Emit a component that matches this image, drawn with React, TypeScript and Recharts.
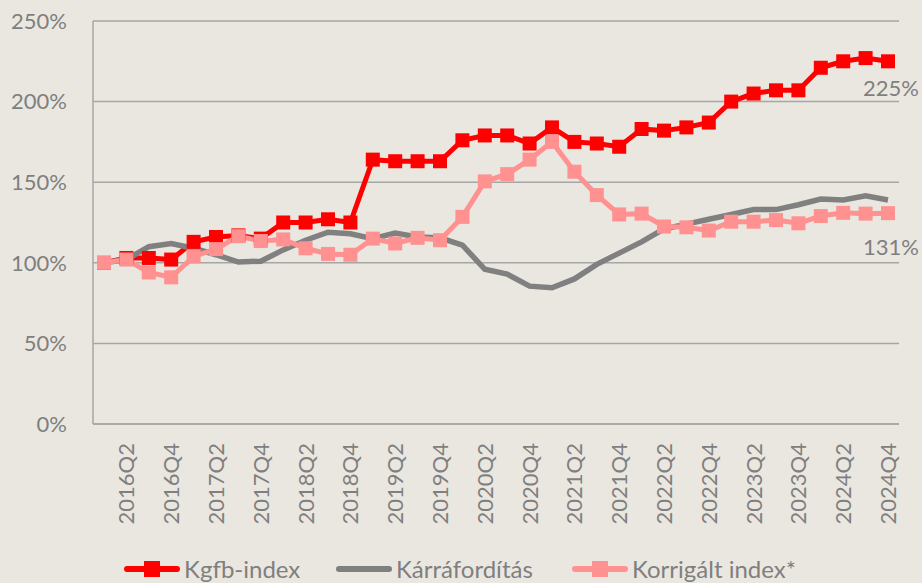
import { CartesianGrid, LabelList, Legend, Line, LineChart, XAxis, YAxis } from 'recharts'

document.body.style.margin = '0'

const quarters = [
  '2016Q1', '2016Q2', '2016Q3', '2016Q4', '2017Q1', '2017Q2', '2017Q3', '2017Q4',
  '2018Q1', '2018Q2', '2018Q3', '2018Q4', '2019Q1', '2019Q2', '2019Q3', '2019Q4',
  '2020Q1', '2020Q2', '2020Q3', '2020Q4', '2021Q1', '2021Q2', '2021Q3', '2021Q4',
  '2022Q1', '2022Q2', '2022Q3', '2022Q4', '2023Q1', '2023Q2', '2023Q3', '2023Q4',
  '2024Q1', '2024Q2', '2024Q3', '2024Q4',
]

const kgfbIndex = [
  100, 103, 103, 102, 113, 116, 117, 115, 125, 125, 127, 125,
  164, 163, 163, 163, 176, 179, 179, 174, 184, 175, 174, 172,
  183, 182, 184, 187, 200, 205, 207, 207, 221, 225, 227, 225,
]

const karraforditas = [
  100, 102, 110, 112, 109, 105, 100.5, 101, 108, 114, 119, 118,
  115, 118.5, 116, 115.5, 111, 96, 93, 85.5, 84.5, 90, 99, 106,
  113, 121, 124, 127, 130, 133, 133, 136, 139.5, 139, 141.5, 139,
]

const korrigaltIndex = [
  100, 102, 94, 91, 104, 108.5, 116.5, 113.5, 114.5, 109, 105.5, 105,
  115, 112, 115.5, 114, 128.5, 150.5, 155, 164, 175, 156.5, 142, 130,
  130.5, 122.5, 122, 120, 125.5, 125.5, 126.5, 124.5, 129, 131, 130.5, 130.8,
]

const yTicks = [0, 50, 100, 150, 200, 250]

const chartData = quarters.map((q, i) => ({
  quarter: q,
  kgfb: kgfbIndex[i],
  karr: karraforditas[i],
  korr: korrigaltIndex[i],
}))

const FONT = 'Lato, Carlito, Calibri, sans-serif'
const TEXT = '#7f7f7f'
const GRID = '#a6a6a6'
const RED = '#ff0000'
const GRAY = '#808080'
const PINK = '#ff9191'

const squareDot = (color: string) => (p: any) => (
  <rect key={`dot-${p.index}`} x={p.cx - 7} y={p.cy - 7} width={14} height={14} fill={color} />
)

const QuarterTick = (props: any) => {
  const { x, y, payload } = props
  if (payload.index % 2 === 0) return <g />
  return (
    <text
      x={x}
      y={y}
      dy="0.36em"
      transform={`rotate(-90, ${x}, ${y})`}
      textAnchor="end"
      fill={TEXT}
      fontSize={22}
      fontFamily={FONT}
    >
      {payload.value}
    </text>
  )
}

const endLabel = (dyOffset: number) => (props: any) => {
  const { x, y, value, index } = props
  if (index !== quarters.length - 1) return null
  return (
    <text x={x + 31} y={y + dyOffset} dy="0.36em" textAnchor="end" fill={TEXT} fontSize={22} fontFamily={FONT}>
      {Math.round(value)}%
    </text>
  )
}

const legendItems = [
  { name: 'Kgfb-index', color: RED, marker: true, left: 124 },
  { name: 'Kárráfordítás', color: GRAY, marker: false, left: 336 },
  { name: 'Korrigált index*', color: PINK, marker: true, left: 572 },
]

const ChartLegend = () => (
  <div style={{ position: 'relative', height: 26, fontFamily: FONT, fontSize: 24, color: TEXT, lineHeight: '26px' }}>
    {legendItems.map((item) => (
      <div key={item.name} style={{ position: 'absolute', left: item.left, top: 0, display: 'flex', alignItems: 'center', whiteSpace: 'nowrap' }}>
        <svg width={56} height={18}>
          <line x1={3} y1={9} x2={53} y2={9} stroke={item.color} strokeWidth={6} strokeLinecap="round" />
          {item.marker && <rect x={20} y={1} width={16} height={16} fill={item.color} />}
        </svg>
        <span style={{ marginLeft: 4 }}>{item.name}</span>
      </div>
    ))}
  </div>
)

export default function App() {
  return (
    <div style={{ width: 922, height: 583, background: '#eae7e0' }}>
      <LineChart width={922} height={583} data={chartData} margin={{ top: 21, right: 23, left: 13, bottom: 39 }}>
        <CartesianGrid vertical={false} stroke={GRID} strokeWidth={1.5} />
        <XAxis
          dataKey="quarter"
          interval={0}
          height={120}
          padding={{ left: 11, right: 11 }}
          tickLine={false}
          tickSize={6}
          tickMargin={13}
          axisLine={{ stroke: GRID, strokeWidth: 1.5 }}
          tick={<QuarterTick />}
        />
        <YAxis
          width={80}
          domain={[0, 250]}
          ticks={yTicks}
          tickFormatter={(v: number) => `${v}%`}
          tickLine={false}
          tickSize={6}
          tickMargin={20}
          axisLine={{ stroke: GRID, strokeWidth: 1.5 }}
          tick={{ fill: TEXT, fontSize: 22, fontFamily: FONT }}
        />
        <Legend
          layout="horizontal"
          verticalAlign="middle"
          align="center"
          wrapperStyle={{ top: 556, left: 0, width: 922 }}
          content={<ChartLegend />}
        />
        <Line dataKey="kgfb" name="Kgfb-index" stroke={RED} strokeWidth={5} dot={squareDot(RED)} activeDot={false} isAnimationActive={false}>
          <LabelList dataKey="kgfb" content={endLabel(27)} />
        </Line>
        <Line dataKey="karr" name="Kárráfordítás" stroke={GRAY} strokeWidth={5.5} dot={false} activeDot={false} isAnimationActive={false} />
        <Line dataKey="korr" name="Korrigált index*" stroke={PINK} strokeWidth={5} dot={squareDot(PINK)} activeDot={false} isAnimationActive={false}>
          <LabelList dataKey="korr" content={endLabel(34)} />
        </Line>
      </LineChart>
    </div>
  )
}
